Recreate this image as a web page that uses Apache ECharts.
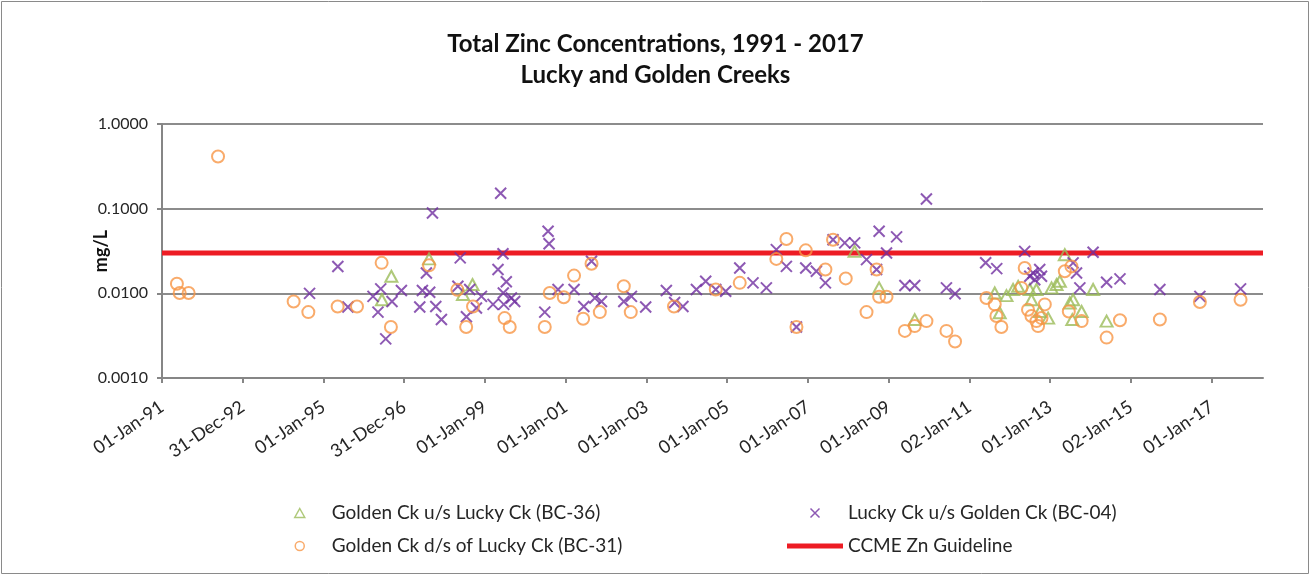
<!DOCTYPE html>
<html>
<head>
<meta charset="utf-8">
<title>Total Zinc Concentrations</title>
<script src="https://cdn.jsdelivr.net/npm/echarts@6/dist/echarts.min.js"></script>
<style>
  html, body { margin: 0; padding: 0; background: #fff; }
  #chart { width: 1311px; height: 576px; }
</style>
</head>
<body>
<div id="chart"></div>
<script>
// x axis: days since 01-Jan-91, one tick every 730.5 days
const xTickLabels = ['01-Jan-91', '31-Dec-92', '01-Jan-95', '31-Dec-96', '01-Jan-99', '01-Jan-01', '01-Jan-03',
  '01-Jan-05', '01-Jan-07', '01-Jan-09', '02-Jan-11', '01-Jan-13', '02-Jan-15', '01-Jan-17'];
const tickStep = 730.5;
const xMax = 9961;
const yTickLabels = ['0.0010', '0.0100', '0.1000', '1.0000'];
const guideline = 0.03;

// Golden Ck u/s Lucky Ck (BC-36)
const bc36Dates = ['1996-06-13', '1996-09-06', '1997-08-13', '1998-06-16', '1998-09-10', '2008-02-27', '2008-10-06',
  '2009-08-24', '2011-08-18', '2011-10-02', '2011-12-02', '2012-01-31', '2012-03-17', '2012-06-30', '2012-07-15',
  '2012-08-29', '2012-09-28', '2012-12-13', '2013-01-13', '2013-02-27', '2013-03-29', '2013-05-13', '2013-06-27',
  '2013-07-20', '2013-07-27', '2013-10-12', '2014-01-24', '2014-05-26'];
const bc36Values = [0.0084, 0.0159, 0.0255, 0.0097, 0.0127, 0.0313, 0.0116,
  0.0049, 0.0101, 0.0059, 0.0094, 0.0111, 0.0121, 0.0111, 0.0084,
  0.0111, 0.0061, 0.0051, 0.0116, 0.0127, 0.0139, 0.0286, 0.0077,
  0.0049, 0.0084, 0.0061, 0.0111, 0.0047];

// Golden Ck d/s of Lucky Ck (BC-31)
const bc31Dates = ['1991-05-16', '1991-06-10', '1991-08-30', '1992-05-22', '1994-04-06', '1994-08-17', '1995-05-09',
  '1995-10-31', '1996-06-10', '1996-09-02', '1997-08-13', '1998-04-26', '1998-07-15', '1998-09-15', '1999-06-28',
  '1999-08-13', '2000-06-25', '2000-08-09', '2000-12-14', '2001-03-17', '2001-06-07', '2001-08-22', '2001-11-05',
  '2002-06-10', '2002-08-12', '2003-09-07', '2004-09-19', '2005-04-24', '2006-03-21', '2006-06-20', '2006-09-19',
  '2006-12-12', '2007-06-08', '2007-08-16', '2007-12-09', '2008-06-14', '2008-09-13', '2008-10-06', '2008-12-12',
  '2009-05-27', '2009-08-24', '2009-12-08', '2010-06-07', '2010-08-24', '2011-06-04', '2011-08-18', '2011-09-02',
  '2011-10-17', '2012-04-15', '2012-05-15', '2012-06-14', '2012-07-15', '2012-08-29', '2012-09-13', '2012-10-14',
  '2012-11-13', '2013-05-13', '2013-06-18', '2013-07-12', '2013-10-12', '2014-05-26', '2014-09-24', '2015-09-20',
  '2016-09-16', '2017-09-19'];
const bc31Values = [0.0130, 0.0101, 0.0101, 0.414, 0.0080, 0.0060, 0.0070,
  0.0070, 0.0229, 0.0040, 0.0214, 0.0110, 0.0040, 0.0070, 0.0051,
  0.0040, 0.0040, 0.0101, 0.0090, 0.0162, 0.0050, 0.0224, 0.0060,
  0.0121, 0.0060, 0.0070, 0.0111, 0.0133, 0.0255, 0.0439, 0.0040,
  0.0322, 0.0191, 0.0430, 0.0150, 0.0060, 0.0191, 0.0091, 0.0091,
  0.0036, 0.0041, 0.0047, 0.0036, 0.0027, 0.0088, 0.0074, 0.0054,
  0.0040, 0.0116, 0.0199, 0.0064, 0.0054, 0.0047, 0.0041, 0.0051,
  0.0074, 0.0182, 0.0061, 0.0208, 0.0047, 0.0030, 0.0048, 0.0049,
  0.0079, 0.0084];

// Lucky Ck u/s Golden Ck (BC-04)
const bc04Dates = ['1994-08-28', '1995-05-11', '1995-08-10', '1996-03-24', '1996-05-08', '1996-06-02', '1996-07-17',
  '1996-09-12', '1996-12-06', '1997-05-21', '1997-06-14', '1997-07-20', '1997-08-19', '1997-09-13', '1997-10-13',
  '1997-12-03', '1998-05-01', '1998-05-22', '1998-07-17', '1998-08-16', '1998-10-16', '1998-11-30', '1999-03-15',
  '1999-04-29', '1999-05-23', '1999-06-13', '1999-06-16', '1999-06-20', '1999-07-13', '1999-08-28', '1999-09-27',
  '2000-06-25', '2000-07-25', '2000-08-03', '2000-10-23', '2001-03-17', '2001-06-13', '2001-08-22', '2001-09-21',
  '2001-11-20', '2002-06-10', '2002-08-18', '2002-12-25', '2003-06-30', '2003-09-13', '2003-11-27', '2004-03-28',
  '2004-06-20', '2004-09-19', '2004-12-18', '2005-04-24', '2005-08-22', '2005-12-21', '2006-03-21', '2006-06-20',
  '2006-09-19', '2006-12-12', '2007-03-18', '2007-06-08', '2007-08-16', '2007-11-30', '2008-02-28', '2008-06-14',
  '2008-09-13', '2008-10-06', '2008-12-12', '2009-03-13', '2009-05-27', '2009-08-24', '2009-12-08', '2010-06-07',
  '2010-08-24', '2011-05-28', '2011-09-05', '2012-05-15', '2012-06-30', '2012-07-30', '2012-08-14', '2012-09-28',
  '2012-10-14', '2013-07-27', '2013-08-27', '2013-09-26', '2014-01-24', '2014-05-26', '2014-09-24', '2015-09-20',
  '2016-09-16', '2017-09-19'];
const bc04Values = [0.0100, 0.0207, 0.0069, 0.0092, 0.0060, 0.0113, 0.0029,
  0.0080, 0.0108, 0.0069, 0.0108, 0.0174, 0.0103, 0.0890, 0.0070,
  0.0049, 0.0121, 0.0262, 0.0053, 0.0111, 0.0067, 0.0092, 0.0074,
  0.0191, 0.152, 0.0294, 0.0101, 0.0074, 0.0137, 0.0088, 0.0080,
  0.0060, 0.0540, 0.0386, 0.0111, 0.0111, 0.0070, 0.0239, 0.0088,
  0.0080, 0.0080, 0.0092, 0.0069, 0.0108, 0.0078, 0.0070, 0.0111,
  0.0139, 0.0111, 0.0106, 0.0199, 0.0133, 0.0116, 0.0328, 0.0208,
  0.0040, 0.0199, 0.0182, 0.0133, 0.0430, 0.0394, 0.0394, 0.0250,
  0.0191, 0.0540, 0.0300, 0.0464, 0.0124, 0.0124, 0.130, 0.0116,
  0.0099, 0.0230, 0.0196, 0.0313, 0.0159, 0.0174, 0.0145, 0.0191,
  0.0159, 0.0229, 0.0174, 0.0116, 0.0305, 0.0135, 0.0148, 0.0111,
  0.0092, 0.0113];

const axisGray = '#868686';
const textColor = '#262626';
const font = 'Lato';

const dayOffset = (s) => {
  const [y, m, d] = s.split('-').map(Number);
  return (Date.UTC(y, m - 1, d) - Date.UTC(1991, 0, 1)) / 86400000;
};
const toPoints = (dates, values) => dates.map((d, i) => [dayOffset(d), values[i]]);
const xTicks = xTickLabels.map((_, i) => i * tickStep);

const chart = echarts.init(document.getElementById('chart'), null, { renderer: 'canvas' });

const legendText = { fontSize: 19, color: textColor, lineHeight: 22 };

const option = {
  animation: false,
  textStyle: { fontFamily: font },
  graphic: [{
    type: 'rect',
    silent: true,
    shape: { x: 1.5, y: 1.5, width: 1307, height: 572 },
    style: { fill: 'none', stroke: '#8a8a8a', lineWidth: 1 }
  }],
  title: {
    text: 'Total Zinc Concentrations, 1991 - 2017\nLucky and Golden Creeks',
    left: 'center',
    top: 24,
    textStyle: { fontFamily: font, fontSize: 24, fontWeight: 'bold', color: '#111', lineHeight: 31 }
  },
  grid: { left: 162, right: 48, top: 124, bottom: 198, containLabel: false, outerBoundsMode: 'none' },
  xAxis: {
    type: 'value',
    min: 0,
    max: xMax,
    interval: tickStep,
    axisLine: { lineStyle: { color: axisGray, width: 2 } },
    axisTick: { show: true, length: 5, customValues: xTicks, lineStyle: { color: axisGray, width: 2 } },
    axisLabel: {
      customValues: xTicks,
      rotate: 34,
      margin: 27,
      fontSize: 18,
      color: textColor,
      formatter: (v) => xTickLabels[Math.round(v / tickStep)] || ''
    },
    splitLine: { show: false }
  },
  yAxis: {
    type: 'log',
    logBase: 10,
    min: 0.001,
    max: 1,
    name: 'mg/L',
    nameLocation: 'middle',
    nameRotate: 90,
    nameGap: 52,
    nameMoveOverlap: false,
    nameTextStyle: { fontSize: 18, fontWeight: 'bold', color: '#111' },
    axisLine: { show: true, lineStyle: { color: axisGray, width: 2 } },
    axisTick: { show: true, length: 5, lineStyle: { color: axisGray, width: 2 } },
    axisLabel: {
      fontSize: 16,
      margin: 14,
      color: textColor,
      formatter: (v) => yTickLabels[Math.round(Math.log10(v)) + 3] || ''
    },
    splitLine: { show: true, lineStyle: { color: '#8c8c8c', width: 2 } }
  },
  legend: [
    {
      orient: 'vertical',
      left: 289,
      top: 497,
      itemWidth: 54,
      itemHeight: 9,
      itemGap: 11,
      symbolKeepAspect: true,
      data: [
        { name: 'Golden Ck u/s Lucky Ck (BC-36)', icon: 'path://M5,0L10,9L0,9Z' },
        { name: 'Golden Ck d/s of Lucky Ck (BC-31)', icon: 'circle' }
      ],
      itemStyle: { borderWidth: 1.5 },
      textStyle: legendText
    },
    {
      orient: 'vertical',
      left: 782,
      top: 497,
      itemWidth: 56,
      itemHeight: 9,
      itemGap: 11,
      symbolKeepAspect: true,
      data: [
        { name: 'Lucky Ck u/s Golden Ck (BC-04)' },
        { name: 'CCME Zn Guideline', icon: 'path://M0,0H56V5H0Z' }
      ],
      itemStyle: { borderWidth: 1.5 },
      textStyle: legendText
    }
  ],
  series: [
    {
      name: 'CCME Zn Guideline',
      type: 'line',
      z: 1,
      silent: true,
      symbol: 'none',
      lineStyle: { color: '#ED1C24', width: 5 },
      itemStyle: { color: '#ED1C24' },
      data: [[0, guideline], [xMax, guideline]]
    },
    {
      name: 'Golden Ck u/s Lucky Ck (BC-36)',
      type: 'scatter',
      z: 3,
      symbol: 'triangle',
      symbolSize: [12, 11],
      itemStyle: { color: 'rgba(0,0,0,0)', borderColor: '#9BBB59', borderWidth: 2 },
      data: toPoints(bc36Dates, bc36Values)
    },
    {
      name: 'Lucky Ck u/s Golden Ck (BC-04)',
      type: 'scatter',
      z: 3,
      symbol: 'path://M0,0L10,10M10,0L0,10',
      symbolSize: 11,
      itemStyle: { color: 'rgba(0,0,0,0)', borderColor: '#7030A0', borderWidth: 2 },
      data: toPoints(bc04Dates, bc04Values)
    },
    {
      name: 'Golden Ck d/s of Lucky Ck (BC-31)',
      type: 'scatter',
      z: 3,
      symbol: 'circle',
      symbolSize: 12,
      itemStyle: { color: 'rgba(0,0,0,0)', borderColor: '#F79646', borderWidth: 2 },
      data: toPoints(bc31Dates, bc31Values)
    }
  ]
};

chart.setOption(option);
</script>
</body>
</html>
